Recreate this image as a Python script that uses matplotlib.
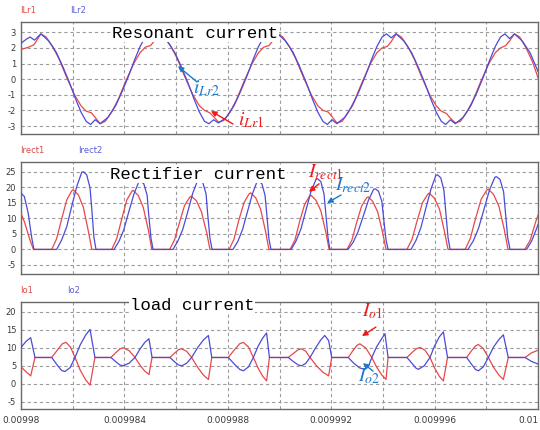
import numpy as np
import matplotlib
matplotlib.use('Agg')
import matplotlib.pyplot as plt

plt.rcParams['axes.unicode_minus'] = False
plt.rcParams['mathtext.fontset'] = 'stix'

# time axis: microseconds after t = 0.00998 s
T0 = 0.00998

# ---- resonant current (A) ----
t_ilr1 = [0, 0.3, 0.5, 0.77,
          0.97, 1.22, 1.47, 1.77, 2.07, 2.32, 2.52, 2.72, 2.87, 3.06,
          3.26, 3.51, 3.76, 4.06, 4.36, 4.61, 4.81, 5.01, 5.16, 5.35,
          5.55, 5.8, 6.05, 6.35, 6.65, 6.9, 7.1, 7.3, 7.45, 7.64,
          7.84, 8.09, 8.34, 8.64, 8.94, 9.19, 9.39, 9.59, 9.74, 9.93,
          10.13, 10.38, 10.63, 10.93, 11.23, 11.48, 11.68, 11.88, 12.03, 12.22,
          12.42, 12.67, 12.92, 13.22, 13.52, 13.77, 13.97, 14.17, 14.32, 14.51,
          14.71, 14.96, 15.21, 15.51, 15.81, 16.06, 16.26, 16.46, 16.61, 16.8,
          17.0, 17.25, 17.5, 17.8, 18.1, 18.35, 18.55, 18.75, 18.9, 19.09,
          19.29, 19.54, 19.79, 20.0]
ilr1 = [1.9, 2.05, 2.2, 2.9,
        2.7, 2.1, 1.3, 0.1, -1.0, -1.7, -2.05, -2.15, -2.45, -2.85,
        -2.7, -2.1, -1.3, -0.1, 1.0, 1.7, 2.05, 2.15, 2.45, 2.9,
        2.7, 2.1, 1.3, 0.1, -1.0, -1.7, -2.0, -2.15, -2.4, -2.75,
        -2.65, -2.1, -1.3, -0.1, 1.0, 1.7, 2.05, 2.15, 2.45, 2.9,
        2.7, 2.1, 1.3, 0.1, -1.0, -1.7, -2.0, -2.1, -2.4, -2.8,
        -2.7, -2.1, -1.3, -0.1, 1.0, 1.7, 2.0, 2.1, 2.4, 2.9,
        2.7, 2.1, 1.3, 0.1, -1.0, -1.7, -2.05, -2.2, -2.5, -2.8,
        -2.7, -2.1, -1.3, -0.1, 1.0, 1.7, 2.0, 2.15, 2.45, 2.9,
        2.7, 2.0, 1.1, 0.1]

t_ilr2 = [0, 0.2, 0.35, 0.52, 0.77,
          1.07, 1.37, 1.62, 1.87, 2.12, 2.32, 2.52, 2.69, 2.87, 3.06,
          3.36, 3.66, 3.91, 4.16, 4.41, 4.61, 4.81, 4.98, 5.16, 5.35,
          5.65, 5.95, 6.2, 6.45, 6.7, 6.9, 7.1, 7.27, 7.45, 7.64,
          7.94, 8.24, 8.49, 8.74, 8.99, 9.19, 9.39, 9.56, 9.74, 9.93,
          10.23, 10.53, 10.78, 11.03, 11.28, 11.48, 11.68, 11.85, 12.03, 12.22,
          12.52, 12.82, 13.07, 13.32, 13.57, 13.77, 13.97, 14.14, 14.32, 14.51,
          14.81, 15.11, 15.36, 15.61, 15.86, 16.06, 16.26, 16.43, 16.61, 16.8,
          17.1, 17.4, 17.65, 17.9, 18.15, 18.35, 18.55, 18.72, 18.9, 19.09,
          19.39, 19.69, 20.0]
ilr2 = [2.3, 2.55, 2.7, 2.5, 2.9,
        2.45, 1.7, 0.8, -0.2, -1.3, -2.1, -2.7, -2.9, -2.6, -2.85,
        -2.45, -1.7, -0.8, 0.2, 1.3, 2.1, 2.7, 2.9, 2.65, 2.9,
        2.45, 1.7, 0.8, -0.2, -1.3, -2.1, -2.7, -2.85, -2.6, -2.8,
        -2.45, -1.7, -0.8, 0.2, 1.3, 2.1, 2.7, 2.9, 2.6, 2.9,
        2.45, 1.7, 0.8, -0.2, -1.3, -2.1, -2.7, -2.9, -2.6, -2.85,
        -2.45, -1.7, -0.8, 0.2, 1.3, 2.1, 2.7, 2.9, 2.65, 2.9,
        2.45, 1.7, 0.8, -0.2, -1.3, -2.1, -2.7, -2.9, -2.6, -2.85,
        -2.45, -1.7, -0.8, 0.2, 1.3, 2.1, 2.7, 2.9, 2.6, 2.9,
        2.45, 1.7, 0.5]

# ---- rectifier current (A) ----
t_irect1 = [0, 0.13, 0.35, 0.48,
            1.19, 1.38, 1.58, 1.77, 1.96, 2.02, 2.22, 2.41, 2.60, 2.74,
            3.51, 3.70, 3.90, 4.09, 4.28, 4.34, 4.54, 4.73, 4.93, 5.06,
            5.75, 5.94, 6.14, 6.33, 6.53, 6.59, 6.79, 6.98, 7.18, 7.31,
            8.05, 8.24, 8.43, 8.63, 8.82, 8.88, 9.08, 9.27, 9.46, 9.59,
            10.41, 10.60, 10.78, 10.97, 11.16, 11.22, 11.41, 11.60, 11.79, 11.92,
            12.61, 12.80, 12.99, 13.18, 13.37, 13.43, 13.61, 13.80, 13.99, 14.12,
            14.93, 15.13, 15.33, 15.53, 15.73, 15.79, 15.99, 16.19, 16.38, 16.52,
            17.18, 17.38, 17.59, 17.80, 18.01, 18.07, 18.28, 18.49, 18.70, 18.84,
            19.49, 19.70, 19.90, 20.0]
irect1 = [11.6, 8.9, 3.0, 0,
          0, 3.5, 10.0, 15.9, 18.8, 19.2, 17.5, 13.6, 6.1, 0,
          0, 3.4, 9.9, 15.8, 18.6, 19.0, 17.3, 13.5, 6.1, 0,
          0, 3.1, 8.9, 14.2, 16.8, 17.1, 15.6, 12.1, 5.5, 0,
          0, 3.3, 9.5, 15.1, 17.8, 18.2, 16.6, 12.9, 5.8, 0,
          0, 3.1, 9.0, 14.4, 17.1, 17.4, 15.8, 12.4, 5.6, 0,
          0, 3.0, 8.8, 14.0, 16.6, 16.9, 15.4, 12.0, 5.4, 0,
          0, 3.3, 9.4, 15.0, 17.7, 18.1, 16.5, 12.9, 5.8, 0,
          0, 3.5, 10.1, 16.1, 19.0, 19.4, 17.7, 13.8, 6.2, 0,
          0, 3.0, 8.6, 11.0]

t_irect2 = [0, 0.13, 0.28, 0.41, 0.50,
            1.38, 1.57, 1.77, 1.96, 2.16, 2.35, 2.41, 2.54, 2.67, 2.74, 2.82, 2.90,
            3.60, 3.79, 3.98, 4.17, 4.37, 4.56, 4.62, 4.75, 4.88, 4.94, 5.03, 5.11,
            5.88, 6.07, 6.26, 6.46, 6.65, 6.84, 6.90, 7.03, 7.16, 7.22, 7.31, 7.39,
            8.20, 8.39, 8.57, 8.76, 8.95, 9.13, 9.19, 9.32, 9.44, 9.51, 9.59, 9.67,
            10.45, 10.64, 10.83, 11.02, 11.21, 11.41, 11.47, 11.60, 11.72, 11.79, 11.88, 11.95,
            12.65, 12.85, 13.04, 13.24, 13.44, 13.64, 13.70, 13.83, 13.96, 14.03, 14.12, 14.20,
            15.09, 15.28, 15.47, 15.66, 15.86, 16.05, 16.11, 16.24, 16.36, 16.43, 16.52, 16.60,
            17.29, 17.50, 17.70, 17.91, 18.12, 18.33, 18.39, 18.53, 18.67, 18.74, 18.83, 18.92,
            19.56, 19.76, 19.95, 20.0]
irect2 = [18.1, 17.0, 11.6, 4.0, 0,
          0, 3.0, 7.3, 13.8, 20.3, 24.8, 25.0, 24.0, 19.8, 12.8, 4.0, 0,
          0, 2.6, 6.4, 12.1, 17.8, 21.8, 22.0, 21.1, 17.4, 11.2, 3.5, 0,
          0, 2.7, 6.5, 12.4, 18.2, 22.3, 22.5, 21.6, 17.8, 11.5, 3.6, 0,
          0, 2.6, 6.4, 12.1, 17.8, 21.8, 22.0, 21.1, 17.4, 11.2, 3.5, 0,
          0, 2.7, 6.6, 12.5, 18.4, 22.5, 22.7, 21.8, 17.9, 11.6, 3.6, 0,
          0, 2.3, 5.7, 10.7, 15.8, 19.3, 19.5, 18.7, 15.4, 9.9, 3.1, 0,
          0, 2.9, 7.0, 13.2, 19.4, 23.8, 24.0, 23.0, 19.0, 12.2, 3.8, 0,
          0, 2.8, 6.8, 12.9, 19.0, 23.2, 23.4, 22.5, 18.5, 11.9, 3.7, 0,
          0, 2.8, 6.8, 8.0]

# ---- load current (A) ----
t_io1 = [0, 0.2, 0.375, 0.54,
         1.19, 1.41, 1.60, 1.74, 1.915, 2.09, 2.29, 2.50, 2.67, 2.86,
         3.48, 3.67, 3.83, 3.95, 4.18, 4.41, 4.60, 4.79, 4.95, 5.07,
         5.76, 5.94, 6.10, 6.22, 6.41, 6.60, 6.83, 7.06, 7.25, 7.38,
         8.02, 8.25, 8.46, 8.60, 8.80, 8.99, 9.17, 9.35, 9.50, 9.61,
         10.34, 10.55, 10.73, 10.86, 11.02, 11.18, 11.43, 11.68, 11.90, 12.02,
         12.66, 12.84, 13.00, 13.11, 13.34, 13.57, 13.76, 13.96, 14.12, 14.20,
         14.93, 15.13, 15.31, 15.44, 15.63, 15.82, 16.00, 16.18, 16.34, 16.50,
         17.24, 17.42, 17.58, 17.69, 17.885, 18.08, 18.28, 18.49, 18.66, 18.85,
         19.50, 19.75, 20.0]
io1 = [4.7, 3.3, 2.2, 7.3,
       7.3, 9.4, 11.1, 11.5, 10.2, 7.3, 3.8, 1.1, -0.4, 7.3,
       7.3, 8.65, 9.7, 10.0, 9.2, 7.3, 5.2, 3.5, 2.6, 7.3,
       7.3, 8.5, 9.5, 9.7, 9.0, 7.3, 4.6, 2.4, 1.2, 7.3,
       7.3, 9.4, 11.1, 11.5, 10.2, 7.3, 4.4, 2.1, 0.8, 7.3,
       7.3, 8.5, 9.5, 9.7, 9.0, 7.3, 5.0, 3.2, 2.2, 7.3,
       7.3, 9.2, 10.7, 11.1, 9.9, 7.3, 4.6, 2.4, 1.2, 7.3,
       7.3, 8.7, 9.8, 10.1, 9.3, 7.3, 4.4, 2.1, 0.8, 7.3,
       7.3, 9.1, 10.5, 10.9, 9.8, 7.3, 4.6, 2.4, 1.2, 7.3,
       7.3, 8.6, 9.3]

t_io2 = [0, 0.2, 0.375, 0.54,
         1.19, 1.39, 1.57, 1.70, 1.90, 2.09, 2.29, 2.50, 2.67, 2.86,
         3.48, 3.67, 3.83, 3.95, 4.18, 4.41, 4.60, 4.79, 4.95, 5.07,
         5.76, 5.94, 6.10, 6.22, 6.41, 6.60, 6.83, 7.06, 7.25, 7.38,
         8.02, 8.25, 8.46, 8.60, 8.80, 8.99, 9.17, 9.35, 9.50, 9.61,
         10.34, 10.55, 10.73, 10.86, 11.02, 11.18, 11.40, 11.60, 11.75, 11.90, 12.02,
         12.66, 12.86, 13.10, 13.31, 13.45, 13.57, 13.76, 13.96, 14.08, 14.20,
         14.93, 15.11, 15.27, 15.37, 15.60, 15.82, 16.00, 16.18, 16.34, 16.50,
         17.24, 17.42, 17.58, 17.69, 17.885, 18.08, 18.28, 18.49, 18.66, 18.85,
         19.50, 19.75, 20.0]
io2 = [10.1, 11.8, 12.8, 7.3,
       7.3, 5.3, 3.7, 3.4, 4.5, 7.3, 10.8, 13.5, 15.1, 7.3,
       7.3, 6.1, 5.2, 5.0, 5.7, 7.3, 9.6, 11.5, 12.5, 7.3,
       7.3, 6.1, 5.2, 5.0, 5.7, 7.3, 10.0, 12.2, 13.4, 7.3,
       7.3, 5.5, 4.0, 3.6, 4.7, 7.3, 10.4, 12.7, 14.1, 7.3,
       7.3, 6.1, 5.2, 5.0, 5.7, 7.3, 10.0, 12.2, 13.4, 12.0, 7.3,
       7.3, 5.8, 4.4, 4.0, 5.0, 7.3, 10.3, 12.6, 13.9, 7.3,
       7.3, 5.8, 4.4, 4.0, 5.0, 7.3, 10.5, 13.0, 14.4, 7.3,
       7.3, 5.5, 4.0, 3.6, 4.7, 7.3, 10.2, 12.3, 13.6, 7.3,
       7.3, 6.2, 5.5]

x_ticks = [0.00998 + k * 2e-6 for k in range(11)]
x_labels = ['0.00998', '', '0.009984', '', '0.009988', '', '0.009992', '',
            '0.009996', '', '0.01']

RED = '#e84848'
BLUE = '#4b4bd9'
A_RED = '#f01818'
A_BLUE = '#1f78c8'


def sec(t):
    return T0 + np.array(t) * 1e-6


def style_axis(ax, yticks, ylim, show_x):
    ax.set_xlim(T0, T0 + 20e-6)
    ax.set_ylim(*ylim)
    ax.set_yticks(yticks)
    ax.set_xticks(x_ticks)
    if show_x:
        ax.set_xticklabels(x_labels)
        lab = ax.get_xticklabels()[-1]
        lab.set_ha('right')
    else:
        ax.set_xticklabels([])
    ax.tick_params(length=0, labelsize=6.5, colors='#3a3a3a')
    ax.tick_params(axis='y', pad=3.5, labelsize=6)
    ax.tick_params(axis='x', pad=5)
    ax.grid(True, color='#9c9c9c', linestyle=(0, (3, 2.5)), linewidth=0.8)
    for s in ax.spines.values():
        s.set_color('#6a6a6a')
        s.set_linewidth(1.0)


def arrow(ax, tail, head, c):
    ax.annotate('', xy=(sec([head[0]])[0], head[1]),
                xytext=(sec([tail[0]])[0], tail[1]),
                arrowprops=dict(arrowstyle='-|>', color=c, lw=1.0,
                                mutation_scale=8, shrinkA=0, shrinkB=0))


def label(ax, t, y, s, c):
    ax.text(sec([t])[0], y, s, color=c, fontsize=14, ha='left', va='baseline',
            zorder=6)


fig = plt.figure(figsize=(5.4, 4.3), dpi=100)
W, H = 540.0, 430.0

ax1 = fig.add_axes([21 / W, 1 - 134 / H, 517 / W, 112 / H])
ax2 = fig.add_axes([21 / W, 1 - 274 / H, 517 / W, 112 / H])
ax3 = fig.add_axes([21 / W, 1 - 409 / H, 517 / W, 107 / H])

ax1.plot(sec(t_ilr1), ilr1, color=RED, lw=0.9, zorder=3)
ax1.plot(sec(t_ilr2), ilr2, color=BLUE, lw=0.9, zorder=3)
style_axis(ax1, [-3, -2, -1, 0, 1, 2, 3], (-3.51, 3.66), False)

ax2.plot(sec(t_irect1), irect1, color=RED, lw=0.9, zorder=3)
ax2.plot(sec(t_irect2), irect2, color=BLUE, lw=0.9, zorder=3)
style_axis(ax2, [-5, 0, 5, 10, 15, 20, 25], (-7.9, 28.1), False)

ax3.plot(sec(t_io1), io1, color=RED, lw=0.9, zorder=3)
ax3.plot(sec(t_io2), io2, color=BLUE, lw=0.9, zorder=3)
style_axis(ax3, [-5, 0, 5, 10, 15, 20], (-7.0, 22.7), True)

# series names above each panel
for y, n1, n2, x2 in [(10.5, 'ILr1', 'ILr2', 70), (150.5, 'Irect1', 'Irect2', 78),
                      (290.5, 'Io1', 'Io2', 67)]:
    fig.text(20 / W, 1 - y / H, n1, color='#e04848', fontsize=6, va='center')
    fig.text(x2 / W, 1 - y / H, n2, color='#5a5ad8', fontsize=6, va='center')

# panel titles
box = dict(facecolor='white', edgecolor='none', pad=0.5)
fig.text(112 / W, 1 - 38 / H, 'Resonant current', family='Liberation Mono',
         fontsize=12.5, va='baseline', bbox=box, zorder=5)
fig.text(110 / W, 1 - 179 / H, 'Rectifier current', family='Liberation Mono',
         fontsize=12.5, va='baseline', bbox=box, zorder=5)
fig.text(130 / W, 1 - 310 / H, 'load current', family='Liberation Mono',
         fontsize=12.5, va='baseline', bbox=box, zorder=5)

# annotations
label(ax1, 6.65, -0.89, r'$i_{Lr2}$', A_BLUE)
arrow(ax1, (6.81, -0.18), (6.07, 0.84), A_BLUE)
label(ax1, 8.39, -2.93, r'$i_{Lr1}$', A_RED)
arrow(ax1, (8.20, -2.87), (7.35, -2.04), A_RED)

label(ax2, 11.10, 23.3, r'$I_{rect1}$', A_RED)
arrow(ax2, (11.53, 21.1), (11.14, 18.5), A_RED)
label(ax2, 12.15, 19.1, r'$I_{rect2}$', A_BLUE)
arrow(ax2, (12.38, 17.5), (11.84, 14.9), A_BLUE)

label(ax3, 13.19, 18.8, r'$I_{o1}$', A_RED)
arrow(ax3, (13.73, 15.75), (13.19, 13.25), A_RED)
label(ax3, 13.04, 0.75, r'$I_{o2}$', A_BLUE)
arrow(ax3, (13.62, 3.5), (13.23, 5.75), A_BLUE)

fig.savefig('out.png', dpi=100)
